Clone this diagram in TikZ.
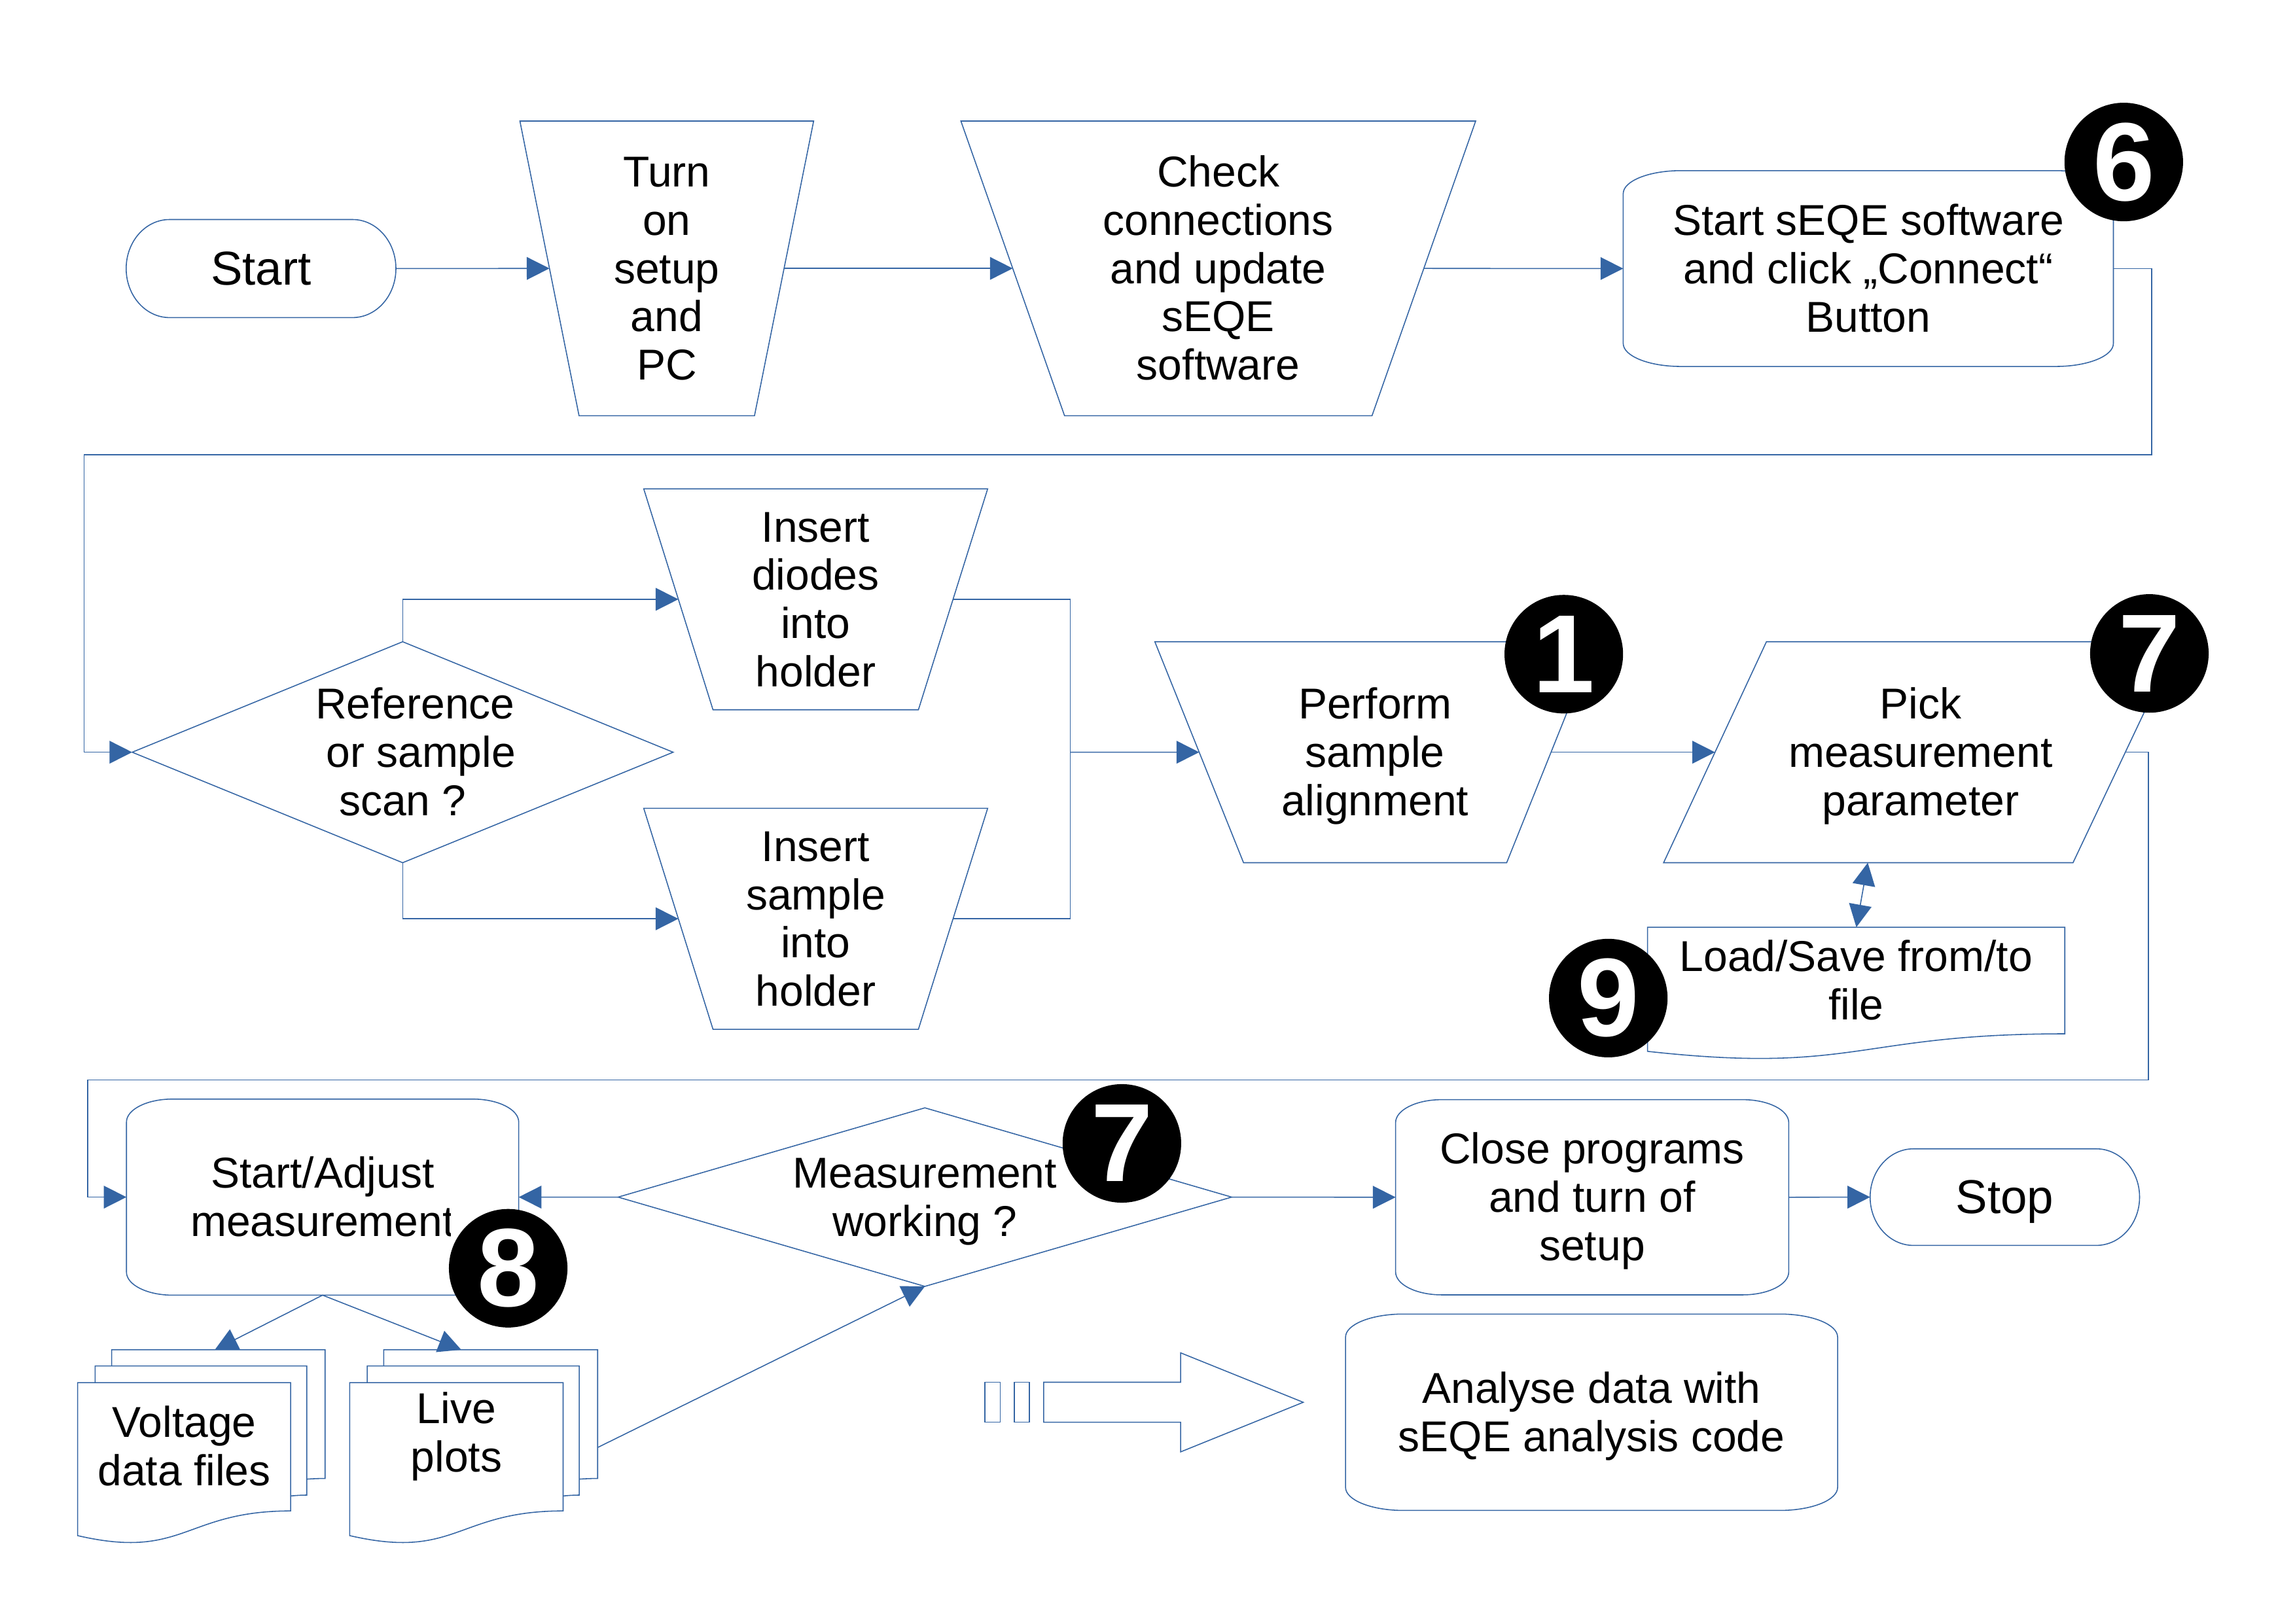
\documentclass[tikz,border=0pt]{standalone}
\usepackage{fontspec}
\setmainfont{Liberation Sans}
\usetikzlibrary{arrows.meta}
\definecolor{lb}{HTML}{3465A4}
\newcommand\sx{\rule[-6.25pt]{0pt}{32.95pt}}
\newcommand\sy{\rule[-6.9pt]{0pt}{36.3pt}}
\begin{document}
\begin{tikzpicture}[x=1pt, y=-1pt,
  lofr/.style n args={4}{shift={(#1,#2)}, x=#3pt, y=-#4pt},
  shp/.style={draw=lb, line width=0.7pt, fill=white},
  conn/.style={draw=lb, line width=0.7pt},
  arr/.style={conn, -{Triangle[length=15.5pt,width=15.5pt]}},
  darr/.style={conn, {Triangle[length=15.5pt,width=15.5pt]}-{Triangle[length=15.5pt,width=15.5pt]}},
  lbl/.style={align=center, inner sep=0pt, font=\fontsize{29.5}{33}\selectfont},
  big/.style={align=center, inner sep=0pt, font=\fontsize{32.5}{36.5}\selectfont},
  badge/.style={circle, fill=black, minimum size=81pt, inner sep=0pt, text=white, font=\fontsize{76}{80}\selectfont\bfseries},
  termp/.style={insert path={(34.7,0) -- (181.3,0) .. controls (200.46,0) and (216,48.35) .. (216,108) .. controls (216,167.65) and (200.46,216) .. (181.3,216) -- (34.7,216) .. controls (15.54,216) and (0,167.65) .. (0,108) .. controls (0,48.35) and (15.54,0) .. (34.7,0) -- cycle}},
  rrp/.style={insert path={(25.4,0) -- (190.6,0) .. controls (204.63,0) and (216,11.37) .. (216,25.4) -- (216,190.6) .. controls (216,204.63) and (204.63,216) .. (190.6,216) -- (25.4,216) .. controls (11.37,216) and (0,204.63) .. (0,190.6) -- (0,25.4) .. controls (0,11.37) and (11.37,0) .. (25.4,0) -- cycle}},
  manp/.style={insert path={(0,0) -- (216,0) -- (172.5,216) -- (43.5,216) -- cycle}},
  datap/.style={insert path={(43.21,0) -- (216,0) -- (172.04,216) -- (0,216) -- cycle}},
  decp/.style={insert path={(0,108) -- (108,0) -- (216,108) -- (108,216) -- cycle}},
  docp/.style={insert path={(0,0) -- (216,0) -- (216,173.22) .. controls (108,173.22) and (108,239.22) .. (0,201.72) -- cycle}}
]
\fill[white] (0,0) rectangle (1568,1109.27);
\useasboundingbox (0,0) rectangle (1568,1109.27);

% ---------- shapes ----------
\begin{scope}[lofr={86.2}{150}{0.85324}{0.31019}]
  \draw[shp, termp];
  \coordinate (start-c) at (108,108);
  \coordinate (start-r) at (216,108);
\end{scope}
\begin{scope}[lofr={355.2}{82.7}{0.92917}{0.93241}]
  \draw[shp, manp];
  \coordinate (turn-c) at (108,108);
  \coordinate (turn-l) at (21.75,108);
  \coordinate (turn-r) at (194.25,108);
\end{scope}
\begin{scope}[lofr={656.5}{82.7}{1.62824}{0.93241}]
  \draw[shp, manp];
  \coordinate (check-c) at (108,108);
  \coordinate (check-l) at (21.75,108);
  \coordinate (check-r) at (194.25,108);
\end{scope}
\begin{scope}[lofr={1109}{116.6}{1.55046}{0.61944}]
  \draw[shp, rrp];
  \coordinate (seqe-c) at (108,108);
  \coordinate (seqe-l) at (0,108);
  \coordinate (seqe-r) at (216,108);
\end{scope}
\begin{scope}[lofr={90.3}{438.5}{1.71111}{0.69907}]
  \draw[shp, decp];
  \coordinate (ref-c) at (108,108);
  \coordinate (ref-l) at (0,108);
  \coordinate (ref-t) at (108,0);
  \coordinate (ref-b) at (108,216);
\end{scope}
\begin{scope}[lofr={439.8}{334}{1.08796}{0.69907}]
  \draw[shp, manp];
  \coordinate (diodes-c) at (108,108);
  \coordinate (diodes-l) at (21.75,108);
  \coordinate (diodes-r) at (194.25,108);
\end{scope}
\begin{scope}[lofr={439.8}{552.3}{1.08796}{0.69907}]
  \draw[shp, manp];
  \coordinate (sample-c) at (108,108);
  \coordinate (sample-l) at (21.75,108);
  \coordinate (sample-r) at (194.25,108);
\end{scope}
\begin{scope}[lofr={789}{438.5}{1.39352}{0.69907}]
  \draw[shp, manp];
  \coordinate (perform-c) at (108,108);
  \coordinate (perform-l) at (21.75,108);
  \coordinate (perform-r) at (194.25,108);
\end{scope}
\begin{scope}[lofr={1136.6}{438.5}{1.62593}{0.69907}]
  \draw[shp, datap];
  \coordinate (pick-c) at (108,108);
  \coordinate (pick-l) at (21.6,108);
  \coordinate (pick-r) at (194.02,108);
  \coordinate (pick-b) at (85.8,216);
\end{scope}
\begin{scope}[lofr={1125.6}{633.6}{1.31991}{0.42037}]
  \draw[shp, docp];
  \coordinate (load-c) at (108,86.61);
  \coordinate (load-t) at (108.1,0);
\end{scope}
\begin{scope}[lofr={86.4}{751}{1.24074}{0.62037}]
  \draw[shp, rrp];
  \coordinate (adj-c) at (108,108);
  \coordinate (adj-l) at (0,108);
  \coordinate (adj-r) at (216,108);
  \coordinate (adj-b) at (108,216);
\end{scope}
\begin{scope}[lofr={422.3}{757}{1.94074}{0.56481}]
  \draw[shp, decp];
  \coordinate (meas-c) at (108,108);
  \coordinate (meas-l) at (0,108);
  \coordinate (meas-r) at (216,108);
  \coordinate (meas-b) at (108,216);
\end{scope}
\begin{scope}[lofr={953.5}{751.4}{1.24352}{0.61759}]
  \draw[shp, rrp];
  \coordinate (close-c) at (108,108);
  \coordinate (close-l) at (0,108);
  \coordinate (close-r) at (216,108);
\end{scope}
\begin{scope}[lofr={1277.7}{785}{0.85231}{0.30556}]
  \draw[shp, termp];
  \coordinate (stop-c) at (108,108);
  \coordinate (stop-l) at (0,108);
\end{scope}
\begin{scope}[lofr={919.3}{897.9}{1.55648}{0.62130}]
  \draw[shp, rrp];
  \coordinate (ana-c) at (108,108);
\end{scope}
\begin{scope}[lofr={53}{922.3}{0.78287}{0.61111}]
  \draw[conn] (29.72,18.15) -- (29.72,0) -- (216,0) -- (216,143.92) .. controls (208,143.92) and (200,144.67) .. (200,144.67);
  \draw[conn] (15.32,36.75) -- (15.32,18.15) -- (200,18.15) -- (200,162.52) .. controls (192.98,162.52) and (185.95,163.52) .. (185.95,163.52);
  \draw[shp] (0,36.75) -- (185.95,36.75) -- (185.95,180.22) .. controls (92.98,180.22) and (92.98,235.42) .. (0,207.82) -- cycle;
  \coordinate (volt-c) at (93,108.3);
  \coordinate (volt-t) at (119.8,0);
\end{scope}
\begin{scope}[lofr={238.9}{922.3}{0.78426}{0.61111}]
  \draw[conn] (29.72,18.15) -- (29.72,0) -- (216,0) -- (216,143.92) .. controls (208,143.92) and (200,144.67) .. (200,144.67);
  \draw[conn] (15.32,36.75) -- (15.32,18.15) -- (200,18.15) -- (200,162.52) .. controls (192.98,162.52) and (185.95,163.52) .. (185.95,163.52);
  \draw[shp] (0,36.75) -- (185.95,36.75) -- (185.95,180.22) .. controls (92.98,180.22) and (92.98,235.42) .. (0,207.82) -- cycle;
  \coordinate (live-c) at (93,92.8);
  \coordinate (live-t) at (97.2,0);
  \coordinate (live-r) at (216,109.3);
\end{scope}

% block arrow
\draw[conn] (673,944.5) rectangle (683.4,971.8);
\draw[conn] (693.1,944.5) rectangle (703.4,971.8);
\draw[conn] (713.1,944.5) -- (806.6,944.5) -- (806.6,924.4) -- (890.4,958.2) -- (806.6,992.1) -- (806.6,971.8) -- (713.1,971.8) -- cycle;

% ---------- helper coordinates ----------
\coordinate (k1) at (1470.1,310.7);
\coordinate (k2) at (57.5,310.7);
\coordinate (join) at (731.3,514);
\coordinate (k3) at (1467.8,737.9);
\coordinate (k4) at (59.9,737.9);

% ---------- connectors ----------
\draw[arr] (start-r) -- (turn-l);
\draw[arr] (turn-r) -- (check-l);
\draw[arr] (check-r) -- (seqe-l);
\draw[arr] (seqe-r) -| (k1) -- (k2) |- (ref-l);
\draw[arr] (ref-t) |- (diodes-l);
\draw[arr] (ref-b) |- (sample-l);
\draw[conn] (diodes-r) -| (join) |- (sample-r);
\draw[arr] (join) -- (perform-l);
\draw[arr] (perform-r) -- (pick-l);
\draw[arr] (pick-r) -| (k3) -- (k4) |- (adj-l);
\draw[darr] (pick-b) -- (load-t);
\draw[arr] (meas-l) -- (adj-r);
\draw[arr] (meas-r) -- (close-l);
\draw[arr] (close-r) -- (stop-l);
\draw[arr] (adj-b) -- (volt-t);
\draw[arr] (adj-b) -- (live-t);
\draw[arr] (live-r) -- (meas-b);

% ---------- texts ----------
\node[big] (t-start) at (start-c) {\sy Start};
\node[lbl] (t-turn) at (turn-c) {\sx Turn\\\sx on\\\sx setup\\\sx and\\\sx PC};
\node[lbl] (t-check) at (check-c) {\sx Check\\\sx connections\\\sx and update\\\sx sEQE\\\sx software};
\node[lbl] (t-seqe) at (seqe-c) {\sx Start sEQE software\\\sx and click „Connect“\\\sx Button};
\node[lbl] (t-ref) at (ref-c) {\sx\hspace*{17pt}Reference\\\sx\hspace*{25pt}or sample\\\sx scan ?};
\node[lbl] (t-diodes) at (diodes-c) {\sx Insert\\\sx diodes\\\sx into\\\sx holder};
\node[lbl] (t-sample) at (sample-c) {\sx Insert\\\sx sample\\\sx into\\\sx holder};
\node[lbl] (t-perform) at (perform-c) {\sx Perform\\\sx sample\\\sx alignment};
\node[lbl] (t-pick) at (pick-c) {\sx Pick\\\sx measurement\\\sx parameter};
\node[lbl] (t-load) at (load-c) {\sx Load/Save from/to\\\sx file};
\begin{scope}
  \clip (0,700) rectangle (308,900);
  \node[lbl] (t-adj) at (adj-c) {\sx Start/Adjust\\\sx measurement};
\end{scope}
\node[lbl] (t-meas) at (meas-c) {\sx Measurement\\\sx working ?};
\node[lbl] (t-close) at (close-c) {\sx Close programs\\\sx and turn of\\\sx setup};
\node[big] (t-stop) at (stop-c) {\sy Stop};
\node[lbl] (t-ana) at (ana-c) {\sx Analyse data with\\\sx sEQE analysis code};
\node[lbl] (t-volt) at (volt-c) {\sx Voltage\\\sx data files};
\node[lbl] (t-live) at (live-c) {\sx Live\\\sx plots};

% ---------- badges ----------
\node[badge] (b6) at (1451,110.7) {6};
\node[badge] (b1) at (1068.4,447) {1};
\node[badge] (b7a) at (1468.5,446.5) {7};
\node[badge] (b9) at (1098.8,682) {9};
\node[badge] (b7b) at (766.5,781.3) {7};
\node[badge] (b8) at (347.2,866.6) {8};
\end{tikzpicture}
\end{document}
